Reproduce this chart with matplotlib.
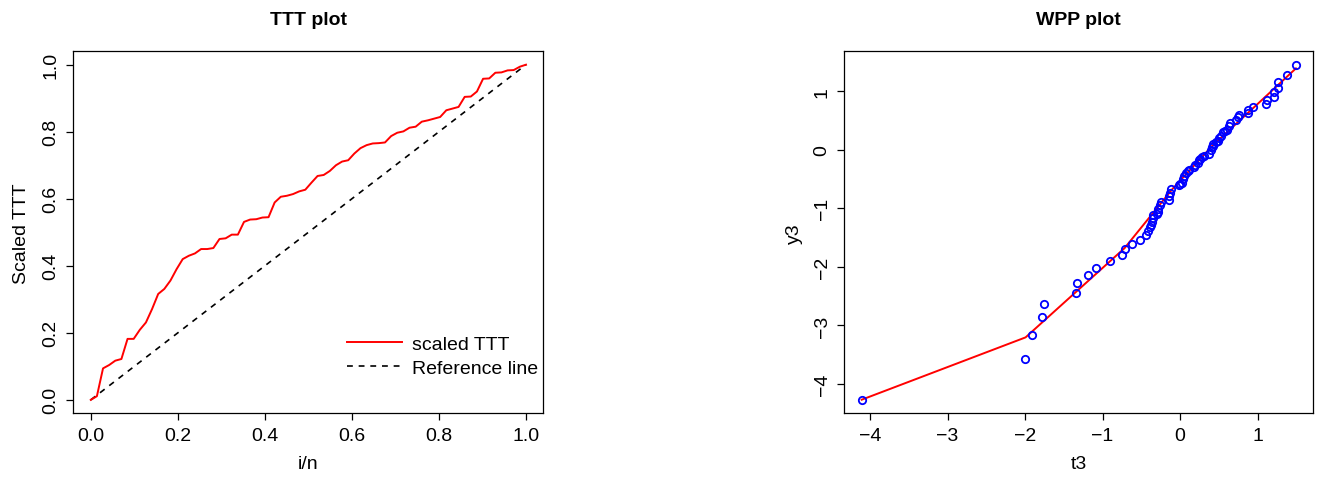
import numpy as np
import matplotlib
matplotlib.use('Agg')
from matplotlib import pyplot as plt

# scaled TTT values at i/n, i = 0..71
ttt = [0.000, 0.011, 0.094, 0.104, 0.117, 0.122, 0.182, 0.182, 0.209, 0.231,
       0.271, 0.316, 0.331, 0.356, 0.390, 0.420, 0.430, 0.437, 0.450, 0.450,
       0.453, 0.480, 0.482, 0.493, 0.493, 0.531, 0.538, 0.539, 0.544, 0.545,
       0.589, 0.606, 0.609, 0.614, 0.622, 0.627, 0.648, 0.668, 0.671, 0.683,
       0.700, 0.711, 0.715, 0.735, 0.751, 0.760, 0.765, 0.766, 0.768, 0.787,
       0.797, 0.801, 0.812, 0.815, 0.830, 0.834, 0.839, 0.844, 0.864, 0.869,
       0.874, 0.904, 0.905, 0.920, 0.958, 0.959, 0.976, 0.977, 0.983, 0.984,
       0.994, 1.000]
ref_x = [0, 1]
ref_y = [0, 1]

# WPP points
t3 = [-4.107, -2.002, -1.907, -1.787, -1.753, -1.340, -1.332, -1.186, -1.078, -0.902,
      -0.747, -0.713, -0.614, -0.515, -0.434, -0.408, -0.387, -0.370, -0.361, -0.352,
      -0.348, -0.300, -0.288, -0.279, -0.253, -0.245, -0.146, -0.137, -0.125, -0.112,
      -0.009, 0.000, 0.026, 0.034, 0.056, 0.077, 0.100, 0.120, 0.176, 0.198,
      0.228, 0.249, 0.260, 0.284, 0.314, 0.369, 0.399, 0.412, 0.421, 0.430,
      0.460, 0.485, 0.507, 0.528, 0.550, 0.580, 0.606, 0.627, 0.649, 0.722,
      0.743, 0.756, 0.872, 0.881, 0.945, 1.108, 1.117, 1.207, 1.216, 1.259,
      1.259, 1.379, 1.495]
y3 = [-4.273, -3.574, -3.159, -2.858, -2.636, -2.443, -2.284, -2.136, -2.017, -1.898,
      -1.801, -1.699, -1.614, -1.534, -1.460, -1.386, -1.318, -1.280, -1.233, -1.159,
      -1.108, -1.090, -1.063, -1.006, -0.949, -0.892, -0.864, -0.795, -0.733, -0.665,
      -0.608, -0.590, -0.563, -0.506, -0.455, -0.398, -0.370, -0.352, -0.295, -0.256,
      -0.222, -0.182, -0.160, -0.125, -0.097, -0.068, -0.011, 0.045, 0.060, 0.102,
      0.130, 0.159, 0.199, 0.244, 0.301, 0.320, 0.347, 0.403, 0.455, 0.511,
      0.557, 0.597, 0.631, 0.682, 0.727, 0.784, 0.852, 0.909, 0.983, 1.051,
      1.165, 1.284, 1.455]

# fitted line
fit_t = [-4.107, -1.993, -0.716, -0.095, 0.419, 0.977, 1.495]
fit_y = [-4.270, -3.205, -1.680, -0.664, 0.073, 0.755, 1.392]

plt.rcParams['font.family'] = ['Liberation Sans', 'DejaVu Sans']
plt.rcParams['font.size'] = 14

fig = plt.figure(figsize=(13.17, 4.81), dpi=100)
ax1 = fig.add_axes([0.0557, 0.1387, 0.3569, 0.7526])
ax2 = fig.add_axes([0.6411, 0.1387, 0.3561, 0.7526])

def r_style(ax):
    for s in ax.spines.values():
        s.set_linewidth(0.9)
    ax.tick_params(direction='out', length=5.3, width=0.9, pad=4.5, labelsize=14)
    for lab in ax.get_yticklabels():
        lab.set_rotation(90)
        lab.set_va('center')

# TTT plot
i_n = np.arange(len(ttt)) / (len(ttt) - 1)
ax1.plot(ref_x, ref_y, color='black', lw=1.2, dashes=(3.5, 3.5), label='Reference line')
ax1.plot(i_n, ttt, color='red', lw=1.4, label='scaled TTT')
ax1.set_xlim(-0.04, 1.04)
ax1.set_ylim(-0.04, 1.04)
ax1.set_xticks(np.arange(0, 1.01, 0.2))
ax1.set_yticks(np.arange(0, 1.01, 0.2))
ax1.set_xticklabels(['0.0', '0.2', '0.4', '0.6', '0.8', '1.0'])
ax1.set_yticklabels(['0.0', '0.2', '0.4', '0.6', '0.8', '1.0'])
ax1.set_xlabel('i/n', labelpad=8)
ax1.set_ylabel('Scaled TTT', labelpad=9)
ax1.set_title('TTT plot', fontweight='bold', fontsize=14, pad=20)
h, l = ax1.get_legend_handles_labels()
ax1.legend(h[::-1], l[::-1], loc='lower right', frameon=False, handlelength=2.85,
           handletextpad=0.5, labelspacing=0.35, borderpad=0, borderaxespad=0,
           bbox_to_anchor=(0.989, 0.1), fontsize=14)
r_style(ax1)

# WPP plot
ax2.plot(fit_t, fit_y, color='red', lw=1.4)
ax2.plot(t3, y3, 'o', mfc='none', mec='blue', ms=5.3, mew=1.3)
xr = max(t3) - min(t3)
yr = max(y3) - min(y3)
ax2.set_xlim(min(t3) - 0.04 * xr, max(t3) + 0.04 * xr)
ax2.set_ylim(min(y3) - 0.04 * yr, max(y3) + 0.04 * yr)
ax2.set_xticks([-4, -3, -2, -1, 0, 1])
ax2.set_yticks([-4, -3, -2, -1, 0, 1])
ax2.set_xticklabels(['\u22124', '\u22123', '\u22122', '\u22121', '0', '1'])
ax2.set_yticklabels(['\u22124', '\u22123', '\u22122', '\u22121', '0', '1'])
ax2.set_xlabel('t3', labelpad=8)
ax2.set_ylabel('y3', labelpad=8)
ax2.set_title('WPP plot', fontweight='bold', fontsize=14, pad=20)
r_style(ax2)

fig.savefig('out.png', dpi=100)
